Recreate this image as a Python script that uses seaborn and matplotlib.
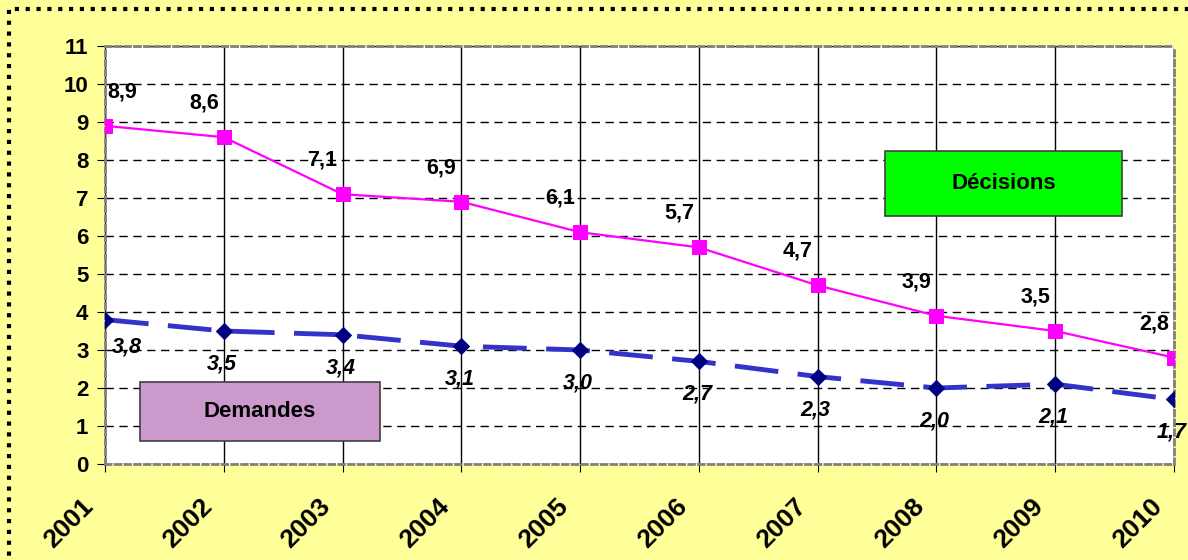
import matplotlib
matplotlib.use("Agg")
import matplotlib.pyplot as plt
import matplotlib.transforms as mtransforms
import seaborn as sns
import pandas as pd
from matplotlib.patches import Rectangle

years = [2001, 2002, 2003, 2004, 2005, 2006, 2007, 2008, 2009, 2010]
decisions = [8.9, 8.6, 7.1, 6.9, 6.1, 5.7, 4.7, 3.9, 3.5, 2.8]
demandes = [3.8, 3.5, 3.4, 3.1, 3.0, 2.7, 2.3, 2.0, 2.1, 1.7]
yticks = list(range(0, 12))

sns.set_style("white")
plt.rcParams['font.family'] = ['Liberation Sans', 'DejaVu Sans']
plt.rcParams['text.color'] = 'black'
plt.rcParams['xtick.color'] = 'black'
plt.rcParams['ytick.color'] = 'black'

df = pd.DataFrame({"year": years, "Décisions": decisions, "Demandes": demandes})

fig = plt.figure(figsize=(11.88, 5.6), dpi=100, facecolor="#FFFF99")
ax = fig.add_axes([105/1188, 1-464/560, (1174-105)/1188, (464-46)/560])
ax.set_facecolor("white")

sns.lineplot(data=df, x="year", y="Demandes", ax=ax, color="#3333CC",
             linewidth=3.5, zorder=3)
ax.lines[-1].set_dashes([9, 4])
sns.lineplot(data=df, x="year", y="Demandes", ax=ax, color="#000080",
             linestyle="none", marker="D", markersize=8, markeredgecolor="#000080", zorder=4)
sns.lineplot(data=df, x="year", y="Décisions", ax=ax, color="#FF00FF",
             linewidth=1.6, marker="s", markersize=10, markeredgecolor="#FF00FF", zorder=4)

ax.set_xlim(years[0], years[-1])
ax.set_ylim(0, 11)
ax.set_yticks(yticks)
ax.set_yticklabels([str(v) for v in yticks], fontsize=16, fontweight="bold")
ax.set_xticks(years)
ax.set_xticklabels([str(y) for y in years], fontsize=19, fontweight="bold",
                   rotation=45, ha="right", rotation_mode="anchor")
ax.tick_params(axis="x", length=6, pad=16, color="black", direction="out", bottom=True)
ax.tick_params(axis="y", length=6, pad=6, color="black", direction="out", left=True)
ax.set_xlabel("")
ax.set_ylabel("")
shift = mtransforms.ScaledTranslation(-24/100, 0, fig.dpi_scale_trans)
for lab in ax.get_xticklabels():
    lab.set_transform(lab.get_transform() + shift)

ax.yaxis.grid(True, color="black", linestyle=(0, (6, 4)), linewidth=1)
ax.xaxis.grid(True, color="black", linestyle="-", linewidth=1)
ax.set_axisbelow(True)
for s in ax.spines.values():
    s.set_visible(True)
    s.set_color("#808080")
    s.set_linestyle((0, (2, 1.5)))
    s.set_linewidth(2)

for i, (x, v) in enumerate(zip(years, decisions)):
    dx = 17 if i == 0 else -20
    ax.annotate(f"{v:.1f}".replace(".", ","), (x, v), xytext=(dx*0.72, 34*0.72),
                textcoords="offset points", ha="center", va="center",
                fontsize=15.5, fontweight="bold", zorder=5)
for i, (x, v) in enumerate(zip(years, demandes)):
    dx = 22 if i == 0 else -2
    dy = 27 if i == 0 else 33
    ax.annotate(f"{v:.1f}".replace(".", ","), (x, v), xytext=(dx*0.72, -dy*0.72),
                textcoords="offset points", ha="center", va="center",
                fontsize=15.5, fontweight="bold", fontstyle="italic", zorder=5,
                annotation_clip=False)

# text boxes
def box(x0, y0, x1, y1, color, text):
    r = Rectangle((x0/1188, 1-y1/560), (x1-x0)/1188, (y1-y0)/560,
                  transform=fig.transFigure, facecolor=color, edgecolor="#404040",
                  linewidth=1.2, zorder=6)
    fig.add_artist(r)
    fig.text((x0+x1)/2/1188, 1-(y0+y1)/2/560, text, ha="center", va="center",
             fontsize=16, fontweight="bold", zorder=7)

box(885, 151, 1122, 216, "#00FF00", "Décisions")
box(140, 382, 380, 441, "#CC99CC", "Demandes")

# dotted outer border
border = Rectangle((9/1188, -0.05), 1.2, 1 - 9/560 + 0.05, transform=fig.transFigure,
                   fill=False, edgecolor="black", linewidth=3, linestyle=(0, (1, 1.6)),
                   zorder=10, clip_on=False)
fig.add_artist(border)

fig.savefig("out.png", dpi=100, facecolor=fig.get_facecolor())
